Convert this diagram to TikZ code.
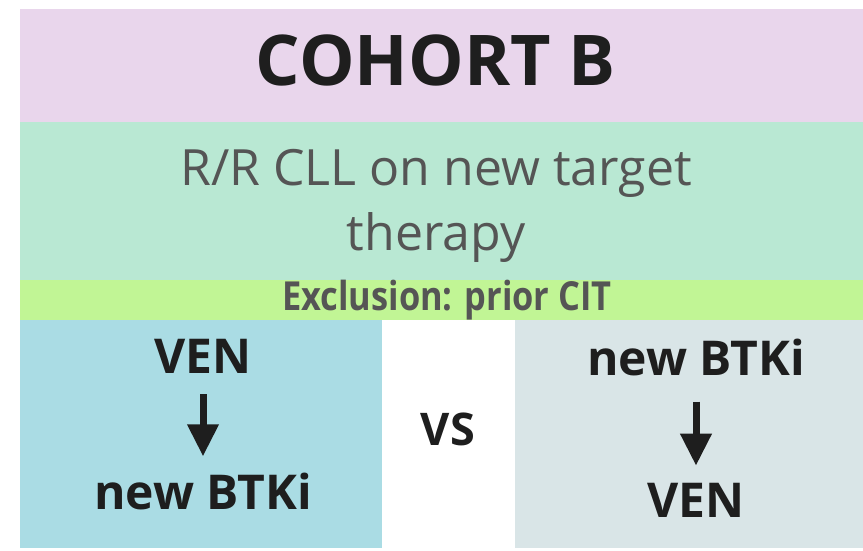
\documentclass[tikz,border=0pt]{standalone}
\usepackage{fontspec}
\usepackage{graphicx}
\setmainfont{Open Sans}
\usetikzlibrary{arrows.meta,positioning}

\definecolor{cohortpink}{HTML}{E9D6EC}
\definecolor{popgreen}{HTML}{B9E8D3}
\definecolor{exclime}{HTML}{C1F595}
\definecolor{armblue}{HTML}{AADCE4}
\definecolor{armgray}{HTML}{D9E5E7}
\definecolor{textgray}{HTML}{555555}
\definecolor{textdark}{HTML}{1E1E1E}

\tikzset{
	armtext/.style={font=\bfseries\fontsize{48}{54}\selectfont, text=textdark, inner sep=0pt},
	armarrow/.style={line width=7pt, -{Triangle[width=30pt,length=32pt]}, textdark}
}

\begin{document}
\begin{tikzpicture}[x=1pt, y=-1pt]
	\useasboundingbox (0, 0) rectangle (863, 550);
	\fill[white] (0, 0) rectangle (863, 550);
	% bands
	\fill[cohortpink] (20, 9) rectangle (863, 122);
	\fill[popgreen] (20, 122) rectangle (863, 280);
	\fill[exclime] (20, 280) rectangle (863, 320);
	\fill[armblue] (20, 320) rectangle (382, 548);
	\fill[armgray] (515, 320) rectangle (863, 548);
	% headings
	\node[font=\bfseries\fontsize{70}{80}\selectfont, text=textdark] (cohort) at (436, 60) {COHORT B};
	\node[font=\fontsize{50}{65}\selectfont, text=textgray, align=center] (population) at (436, 206) {R/R CLL on new target\\therapy};
	\node[font=\bfseries\fontsize{40}{46}\selectfont, text=textgray] (exclusion) at (447, 300) {\scalebox{0.86}[1]{Exclusion: prior CIT}};
	% arms
	\node[armtext] (venA) at (203, 356) {VEN};
	\node[armtext] (btkA) at (203, 491) {new BTKi};
	\draw[armarrow] ([yshift=-21pt]venA.south) -- ([yshift=16pt]btkA.north);
	\node[armtext, font=\bfseries\fontsize{45}{50}\selectfont] (versus) at (448, 429) {VS};
	\node[armtext] (btkB) at (696, 357) {new BTKi};
	\node[armtext] (venB) at (696, 500) {VEN};
	\draw[armarrow] ([yshift=-26pt]btkB.south) -- ([yshift=17pt]venB.north);
\end{tikzpicture}
\end{document}
